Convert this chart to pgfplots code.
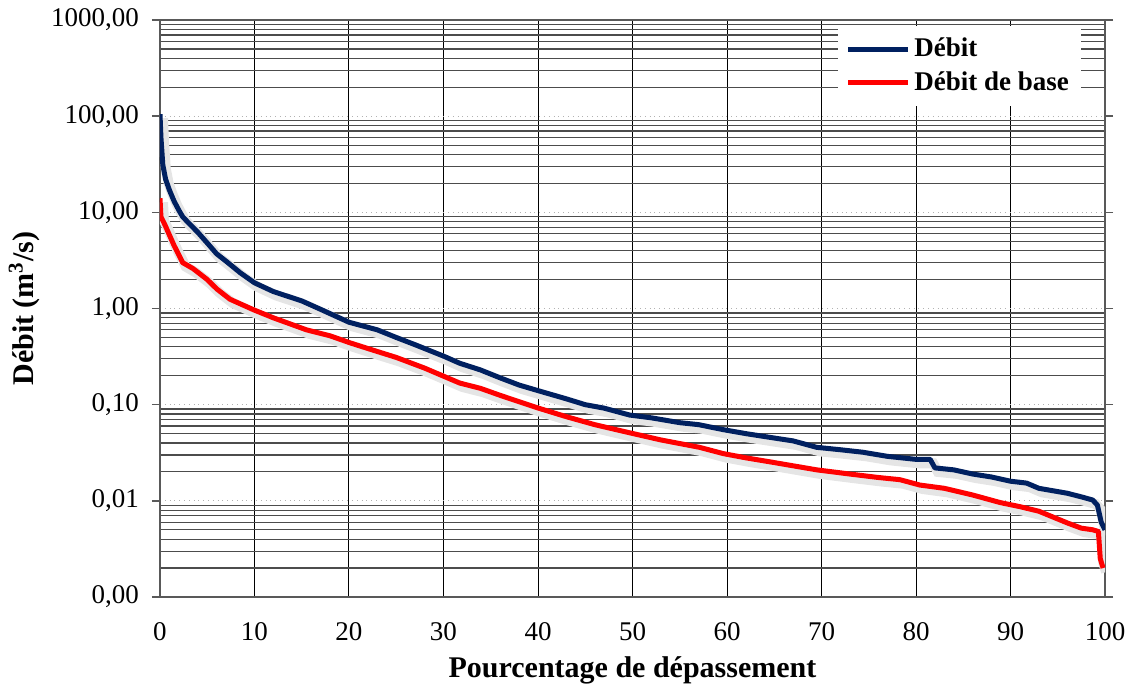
\documentclass[border=0pt]{standalone}
\usepackage{pgfplots}
\pgfplotsset{compat=1.18}
\usepackage{fontspec}
\setmainfont{Liberation Serif}
\definecolor{navy}{RGB}{0,32,96}

\pgfplotstableread{
x y
0 105
0.1 60
0.3 31
0.6 22
1 17
1.5 13
2 10.5
2.4 9
3 7.8
4 6.2
5 4.8
6 3.7
7 3.1
8.5 2.35
10 1.85
12 1.5
15 1.2
17 0.98
20 0.72
23 0.6
25 0.5
27 0.42
30 0.32
31.7 0.27
33.9 0.23
36 0.19
38 0.16
40 0.14
43 0.115
45 0.10
47 0.092
49.7 0.078
52 0.073
55 0.065
57 0.062
59.6 0.055
62 0.05
65 0.045
67 0.042
69.5 0.036
72 0.034
74.4 0.032
77 0.029
80 0.027
81.5 0.027
82 0.022
84 0.021
86 0.019
88 0.0177
90 0.016
91.7 0.0153
93 0.0135
96 0.012
97.5 0.011
98.7 0.0102
99.2 0.009
99.6 0.006
100 0.005
}\debit

\pgfplotstableread{
x y
0 14
0.1 9
0.5 7.5
1 5.8
1.5 4.5
2.4 3.0
3.5 2.6
5 2.0
6 1.6
7.4 1.25
9.9 0.97
12 0.8
15.5 0.6
18 0.52
20.1 0.44
22.5 0.37
25 0.31
28 0.24
31.7 0.168
33.9 0.148
36 0.125
39.9 0.093
43 0.075
46 0.062
49.7 0.051
53 0.043
57.1 0.036
59.6 0.031
62 0.028
65 0.025
69.5 0.021
73 0.019
76 0.0175
78.3 0.0166
80.4 0.0146
83 0.0135
86 0.0115
88.9 0.0096
91 0.0087
93 0.0078
96 0.0059
97.5 0.0052
98.7 0.005
99.3 0.0048
99.5 0.0025
99.8 0.002
}\base

\begin{document}
\begin{tikzpicture}
\begin{axis}[
  name=ax,
  scale only axis,
  width=472.5pt, height=288.5pt,
  xmin=0, xmax=100, ymode=log, ymin=0.001, ymax=1000,
  xtick={0,10,...,100},
  ytick={0.001,0.01,0.1,1,10,100,1000},
  yticklabels={{0,00},{0,01},{0,10},{1,00},{10,00},{100,00},{1000,00}},
  minor ytick={0.002,0.003,0.004,0.005,0.006,0.007,0.008,0.009,
    0.02,0.03,0.04,0.05,0.06,0.07,0.08,0.09,
    0.2,0.3,0.4,0.5,0.6,0.7,0.8,0.9,
    2,3,4,5,6,7,8,9,
    20,30,40,50,60,70,80,90,
    200,300,400,500,600,700,800,900},
  tick label style={font=\fontsize{13.5}{16}\selectfont},
  /pgf/number format/assume math mode=true,
  xmajorgrids, ymajorgrids, yminorgrids,
  major x grid style={black, line width=0.5pt},
  major y grid style={gray!60, dotted, line width=0.5pt},
  minor y grid style={black!70, line width=0.6pt},
  axis line style={gray!70!black, line width=0.8pt},
  tick align=outside,
  major tick length=4pt,
  minor tick length=0pt,
  xtick style={draw=none},
  ytick style={gray!70!black, line width=0.8pt},
  xticklabel style={yshift=-5pt},
  yticklabel style={xshift=-3pt},
  xlabel={\bfseries Pourcentage de dépassement},
  ylabel={\bfseries Débit (m\textsuperscript{3}/s)},
  xlabel style={font=\fontsize{15}{18}\selectfont, yshift=-1.5pt},
  ylabel style={font=\fontsize{15}{18}\selectfont, yshift=-1pt},
  legend style={at={(0.975,0.99)}, anchor=north east, draw=none, fill=white,
    font=\fontsize{13.5}{16}\selectfont\bfseries, row sep=2pt, inner sep=4pt},
  legend cell align=left,
  legend image code/.code={\draw[#1, line width=2.5pt] (0cm,0cm) -- (1.05cm,0cm);},
]
\addplot[black!10, line width=5pt, forget plot, shift={(1.5pt,-2pt)}] table[x=x,y=y] {\debit};
\addplot[black!10, line width=5pt, forget plot, shift={(1.5pt,-2pt)}] table[x=x,y=y] {\base};
\addplot[navy, line width=2.5pt, line join=round] table[x=x,y=y] {\debit};
\addlegendentry{Débit}
\addplot[red, line width=2.5pt, line join=round] table[x=x,y=y] {\base};
\addlegendentry{Débit de base}
\end{axis}
\pgfresetboundingbox
\path ([shift={(-80pt,-45.5pt)}]ax.south west) rectangle ([shift={(10pt,10pt)}]ax.north east);
\end{tikzpicture}
\end{document}
